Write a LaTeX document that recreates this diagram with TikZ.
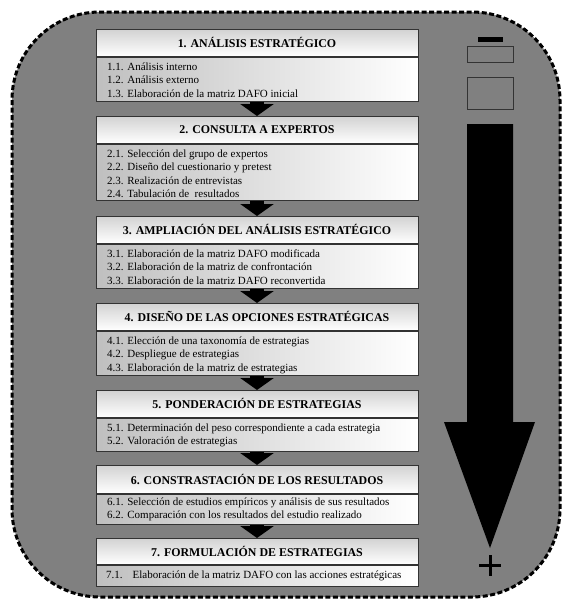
\documentclass[tikz,border=0pt]{standalone}
\usepackage{fontspec}
\setmainfont{Liberation Serif}
\usetikzlibrary{arrows.meta}
\definecolor{bg}{HTML}{808080}
\definecolor{edge}{HTML}{333333}
\tikzset{
  titlebox/.style={draw=edge, line width=0.8pt, top color=gray!35, bottom color=white,
    minimum width=322pt, inner sep=0pt, anchor=north,
    font=\fontsize{11.9}{14}\selectfont\bfseries},
  bodybox/.style={draw=edge, line width=0.8pt, left color=gray!50, right color=white,
    minimum width=322pt, inner sep=0pt, anchor=north},
  bodytext/.style={anchor=north west, inner sep=0pt, align=left,
    font=\fontsize{11}{13.5}\selectfont},
  flowarrow/.style={black, line width=14pt, -{Triangle[width=33pt,length=12pt]}},
  legendbox/.style={draw=edge, line width=0.8pt},
}
\newcommand{\fl}{\rule{0pt}{11pt}}
\begin{document}
\begin{tikzpicture}[x=1pt,y=-1pt]
\fill[white] (0,0) rectangle (563,600);
\useasboundingbox (0,0) rectangle (563,600);
% background panel
\filldraw[fill=bg, draw=black, line width=3pt, dash pattern=on 5pt off 2.5pt,
  rounded corners=88pt] (12,12) rectangle (560,597);

% big arrow on the right
\fill[black] (467,124) -- (513,124) -- (513,422) -- (535,422) -- (490,548)
  -- (444,422) -- (467,422) -- cycle;
\fill[black] (478,37) rectangle (503,42);
\draw[legendbox] (467,46) rectangle (513,62);
\draw[legendbox] (467,77) rectangle (513,109);
\draw[black, line width=3pt] (479,565) -- (501,565);
\draw[black, line width=3pt] (490,555) -- (490,576);

% box 1
\node[titlebox, minimum height=27pt] (t1) at (257,29) {1. ANÁLISIS ESTRATÉGICO};
\node[bodybox, minimum height=44pt] (b1) at (t1.south) {};
\node[bodytext] (x1) at (107,59) {\fl 1.1. Análisis interno\\1.2. Análisis externo\\1.3. Elaboración de la matriz DAFO inicial};
% box 2
\node[titlebox, minimum height=27pt] (t2) at (257,116) {2. CONSULTA A EXPERTOS};
\node[bodybox, minimum height=56pt] (b2) at (t2.south) {};
\node[bodytext] (x2) at (107,146) {\fl 2.1. Selección del grupo de expertos\\2.2. Diseño del cuestionario y pretest\\2.3. Realización de entrevistas\\2.4. Tabulación de\ \ resultados};
% box 3
\node[titlebox, minimum height=27pt] (t3) at (257,216) {3. AMPLIACIÓN DEL ANÁLISIS ESTRATÉGICO};
\node[bodybox, minimum height=44pt] (b3) at (t3.south) {};
\node[bodytext] (x3) at (107,246) {\fl 3.1. Elaboración de la matriz DAFO modificada\\3.2. Elaboración de la matriz de confrontación\\3.3. Elaboración de la matriz DAFO reconvertida};
% box 4
\node[titlebox, minimum height=27pt] (t4) at (257,303) {4. DISEÑO DE LAS OPCIONES ESTRATÉGICAS};
\node[bodybox, minimum height=44pt] (b4) at (t4.south) {};
\node[bodytext] (x4) at (107,333) {\fl 4.1. Elección de una taxonomía de estrategias\\4.2. Despliegue de estrategias\\4.3. Elaboración de la matriz de estrategias};
% box 5
\node[titlebox, minimum height=27pt] (t5) at (257,390) {5. PONDERACIÓN DE ESTRATEGIAS};
\node[bodybox, minimum height=33pt] (b5) at (t5.south) {};
\node[bodytext] (x5) at (107,420) {\fl 5.1. Determinación del peso correspondiente a cada estrategia\\5.2. Valoración de estrategias};
% box 6
\node[titlebox, minimum height=28pt] (t6) at (257,465) {6. CONSTRASTACIÓN DE LOS RESULTADOS};
\node[bodybox, minimum height=30pt] (b6) at (t6.south) {};
\node[bodytext] (x6) at (107,494) {\fl 6.1. Selección de estudios empíricos y análisis de sus resultados\\6.2. Comparación con los resultados del estudio realizado};
% box 7
\node[titlebox, minimum height=26pt] (t7) at (257,538) {7. FORMULACIÓN DE ESTRATEGIAS};
\node[bodybox, minimum height=21pt] (b7) at (t7.south) {};
\node[bodytext] (x7) at (106,567) {\fl 7.1.\hspace{10pt}Elaboración de la matriz DAFO con las acciones estratégicas};

% connectors
\draw[flowarrow] (b1.south) -- (t2.north);
\draw[flowarrow] (b2.south) -- (t3.north);
\draw[flowarrow] (b3.south) -- (t4.north);
\draw[flowarrow] (b4.south) -- (t5.north);
\draw[flowarrow] (b5.south) -- (t6.north);
\draw[flowarrow] (b6.south) -- (t7.north);
\end{tikzpicture}
\end{document}
